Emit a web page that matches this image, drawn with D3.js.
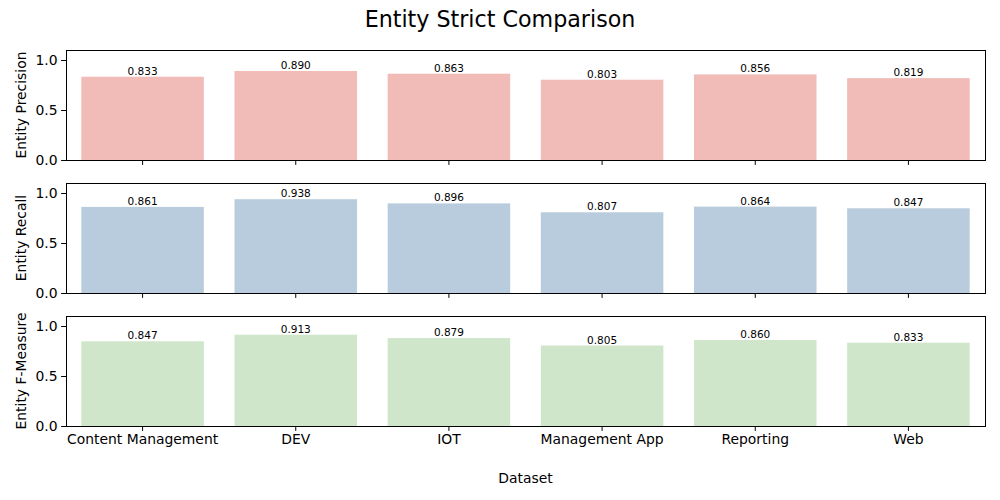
<!DOCTYPE html>
<html>
<head>
<meta charset="utf-8">
<script src="https://cdn.jsdelivr.net/npm/d3@7"></script>
<style>
  html, body { margin: 0; padding: 0; background: #fff; }
  svg { display: block; font-family: "DejaVu Sans", sans-serif; }
</style>
</head>
<body>
<svg id="chart" width="1000" height="500"></svg>
<script>
const categories = ["Content Management", "DEV", "IOT", "Management App", "Reporting", "Web"];
const precision = [0.833, 0.890, 0.863, 0.803, 0.856, 0.819];
const recall = [0.861, 0.938, 0.896, 0.807, 0.864, 0.847];
const fMeasure = [0.847, 0.913, 0.879, 0.805, 0.860, 0.833];
const panelLabels = ["Entity Precision", "Entity Recall", "Entity F-Measure"];
const panelColors = ["#f1bcb8", "#b9ccdd", "#cfe6ca"];
const yTicks = [0.0, 0.5, 1.0];
const titleText = "Entity Strict Comparison";
const xLabel = "Dataset";

const panels = [precision, recall, fMeasure].map((vals, i) => ({
  values: vals, label: panelLabels[i], color: panelColors[i]
}));

const svg = d3.select("#chart");
const left = 66, right = 985;
const panelTops = [50, 183, 316];
const panelH = 110;

const x = d3.scaleBand().domain(categories).range([left, right]).paddingInner(0.2).paddingOuter(0.1);

svg.append("text")
  .attr("x", 500).attr("y", 27)
  .attr("text-anchor", "middle")
  .attr("font-size", 22.2)
  .attr("fill", "#000")
  .text(titleText);

panels.forEach((p, i) => {
  const top = panelTops[i];
  const y = d3.scaleLinear().domain([0, 1.1]).range([top + panelH, top]);
  const g = svg.append("g");

  g.selectAll("rect.bar").data(p.values).enter().append("rect")
    .attr("class", "bar")
    .attr("x", (d, j) => x(categories[j]))
    .attr("width", x.bandwidth())
    .attr("y", d => y(d))
    .attr("height", d => y(0) - y(d))
    .attr("fill", p.color);

  g.selectAll("text.val").data(p.values).enter().append("text")
    .attr("class", "val")
    .attr("x", (d, j) => x(categories[j]) + x.bandwidth() / 2)
    .attr("y", d => y(d) - 2)
    .attr("text-anchor", "middle")
    .attr("font-size", 10.5)
    .attr("fill", "#000")
    .text(d => d.toFixed(3));

  // y axis
  const yAxis = d3.axisLeft(y).tickValues(yTicks).tickFormat(d3.format(".1f")).tickSize(4.9).tickPadding(3.5);
  const ya = g.append("g").attr("transform", `translate(${left},0)`).call(yAxis);
  ya.select(".domain").remove();
  ya.selectAll("text").attr("font-size", 13.9).attr("fill", "#000").attr("font-family", "DejaVu Sans");
  ya.selectAll("line").attr("stroke", "#000").attr("stroke-width", 1);

  // x axis
  const xAxis = d3.axisBottom(x).tickSize(4.9).tickPadding(3.5);
  const xa = g.append("g").attr("transform", `translate(0,${top + panelH})`).call(xAxis);
  xa.select(".domain").remove();
  xa.selectAll("line").attr("stroke", "#000").attr("stroke-width", 1);
  if (i < 2) {
    xa.selectAll("text").remove();
  } else {
    xa.selectAll("text").attr("font-size", 13.9).attr("fill", "#000").attr("font-family", "DejaVu Sans");
  }

  // frame
  g.append("rect")
    .attr("x", left + 0.5).attr("y", top + 0.5)
    .attr("width", right - left).attr("height", panelH)
    .attr("fill", "none").attr("stroke", "#000").attr("stroke-width", 1);

  // y label
  g.append("text")
    .attr("transform", `translate(26,${top + panelH / 2}) rotate(-90)`)
    .attr("text-anchor", "middle")
    .attr("font-size", 13.9)
    .attr("fill", "#000")
    .text(p.label);
});

svg.append("text")
  .attr("x", (left + right) / 2).attr("y", 483)
  .attr("text-anchor", "middle")
  .attr("font-size", 13.9)
  .attr("fill", "#000")
  .text(xLabel);
</script>
</body>
</html>
